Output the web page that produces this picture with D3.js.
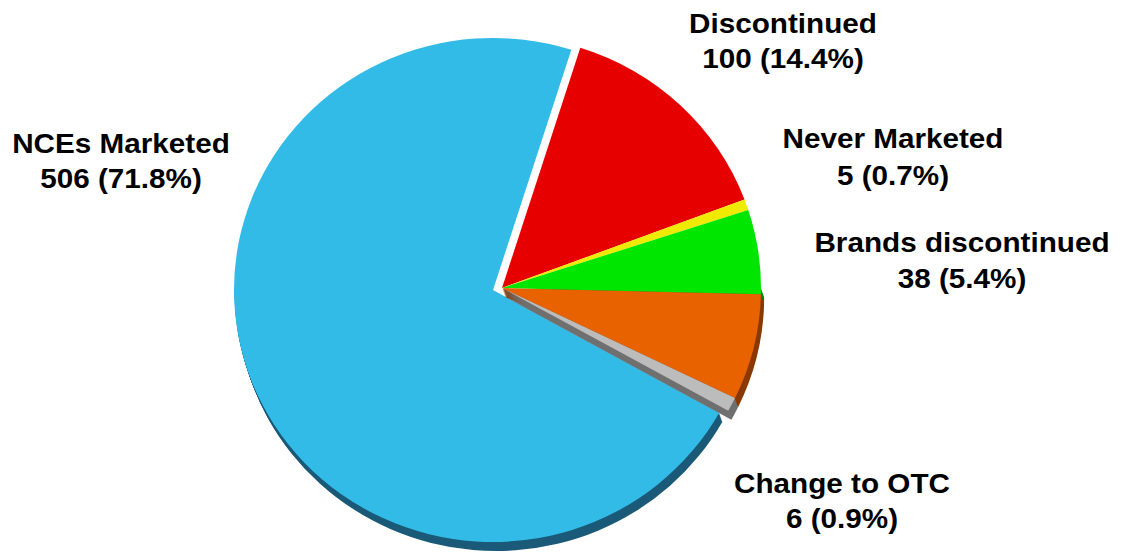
<!DOCTYPE html>
<html>
<head>
<meta charset="utf-8">
<script src="https://cdn.jsdelivr.net/npm/d3@7"></script>
<style>
  body { margin: 0; background: #fff; }
  text { font-family: "Liberation Sans", Arial, sans-serif; font-weight: bold; fill: #000; }
</style>
</head>
<body>
<div id="chart"></div>
<script>
// slices in clockwise order, starting at the top of the red one
var categories = ["Discontinued", "Never Marketed", "Brands discontinued", "", "Change to OTC", "NCEs Marketed"];
var counts     = [100, 5, 38, 48, 6, 506];
var shares     = [14.4, 0.7, 5.4, 6.8, 0.9, 71.8];
var colors     = ["#e60000", "#f0ea00", "#00e600", "#e86200", "#bcbcbc", "#33bbe8"];
var sideColors = ["#8c0000", "#8c8a00", "#008c00", "#8a3a00", "#707070", "#1b5a78"];

// label centre x and the two baselines
var labelPos = {
  "Discontinued":        [783, 33, 68],
  "Never Marketed":      [893, 148, 185],
  "Brands discontinued": [962, 252, 288],
  "Change to OTC":       [842, 493, 528],
  "NCEs Marketed":       [121, 153, 188]
};

var width = 1123, height = 552;
var cx = 493, cy = 290;
var rx = 259, ry = 252;
var depth = 9;

var svg = d3.select("#chart")
  .append("svg")
  .attr("width", width)
  .attr("height", height);

var pie = d3.pie()
  .sort(null)
  .value(function(d){ return d.share })
  .startAngle(17.6 * Math.PI / 180)
  .endAngle(17.6 * Math.PI / 180 + 2 * Math.PI);

var data = categories.map(function(c, i){
  return { name: c, count: counts[i], share: shares[i], color: colors[i], side: sideColors[i] }
});

var arcs = pie(data);
var arc = d3.arc().innerRadius(0).outerRadius(rx);

// blue first, then the exploded slices
var order = arcs.slice(5).concat(arcs.slice(0, 5));

order.forEach(function(a){
  var ox = a.data.name == "NCEs Marketed" ? 0 : 9;
  var oy = a.data.name == "NCEs Marketed" ? 0 : -2;
  var g = svg.append("g");
  // fake 3d side, only where the rim faces down (between 90 and 270 deg)
  var s0 = Math.max(a.startAngle, Math.PI / 2);
  var s1 = Math.min(a.endAngle, 3 * Math.PI / 2);
  if (s1 > s0) {
    for (var i = depth; i >= 1; i--) {
      g.append("path")
        .attr("transform", "translate(" + (cx + ox + i * 0.35) + "," + (cy + oy + i) + ") scale(1," + (ry / rx) + ")")
        .attr("d", arc({ startAngle: s0, endAngle: s1 }))
        .attr("fill", a.data.side);
    }
  }
  g.append("path")
    .attr("transform", "translate(" + (cx + ox) + "," + (cy + oy) + ") scale(1," + (ry / rx) + ")")
    .attr("d", arc(a))
    .attr("fill", a.data.color);
});

data.forEach(function(d){
  if (!labelPos[d.name]) return;
  var p = labelPos[d.name];
  var t = svg.append("g")
    .attr("transform", "translate(" + p[0] + ",0) scale(1.06,1)");
  t.append("text")
    .attr("text-anchor", "middle")
    .attr("y", p[1])
    .attr("font-size", 28)
    .text(d.name);
  t.append("text")
    .attr("text-anchor", "middle")
    .attr("y", p[2])
    .attr("font-size", 28)
    .text(d.count + " (" + d.share + "%)");
});
</script>
</body>
</html>
